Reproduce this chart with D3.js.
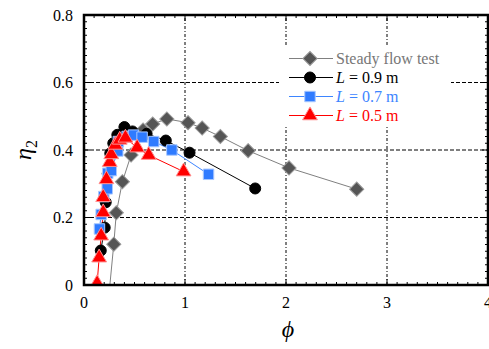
<!DOCTYPE html>
<html>
<head>
<meta charset="utf-8">
<script src="https://cdn.jsdelivr.net/npm/d3@7"></script>
<style>
  body { margin: 0; background: #fff; }
  svg { display: block; font-family: "Liberation Serif", "Times New Roman", serif; }
</style>
</head>
<body>
<svg id="chart"></svg>
<script>
// values: [phi, eta2]
const steady = [
  [0.24, -0.05], [0.295, 0.121], [0.32, 0.214], [0.38, 0.306], [0.466, 0.385],
  [0.585, 0.459], [0.68, 0.477], [0.82, 0.492], [1.03, 0.481], [1.17, 0.465],
  [1.35, 0.44], [1.625, 0.398], [2.03, 0.347], [2.70, 0.284]
]
const L09 = [
  [0.166, 0.102], [0.205, 0.17], [0.215, 0.245], [0.235, 0.33], [0.26, 0.39],
  [0.29, 0.42], [0.33, 0.445], [0.40, 0.468], [0.48, 0.455], [0.62, 0.448],
  [0.81, 0.428], [1.045, 0.392], [1.695, 0.286]
]
const L07 = [
  [0.153, 0.166], [0.17, 0.209], [0.196, 0.262], [0.23, 0.285], [0.235, 0.331],
  [0.27, 0.339], [0.334, 0.397], [0.34, 0.425], [0.427, 0.44], [0.49, 0.444],
  [0.575, 0.438], [0.69, 0.425], [0.87, 0.40], [1.233, 0.328]
]
const L05 = [
  [0.13, 0.005], [0.15, 0.081], [0.17, 0.146], [0.19, 0.215], [0.19, 0.26],
  [0.222, 0.313], [0.255, 0.364], [0.27, 0.387], [0.31, 0.415], [0.354, 0.43],
  [0.41, 0.436], [0.526, 0.407], [0.64, 0.385], [0.986, 0.336]
]
const xTicks = [0, 1, 2, 3, 4]
const yTicks = [0, 0.2, 0.4, 0.6, 0.8]

const series = [
  { name: "Steady flow test", data: steady, line: "#808080", fill: "#555555", stroke: "#9a9a9a", sym: d3.symbolSquare, rot: 45, size: 100, italicL: false },
  { name: "0.9 m", data: L09, line: "#000000", fill: "#000000", stroke: "#000000", sym: d3.symbolCircle, rot: 0, size: 95, italicL: true, text: "#000" },
  { name: "0.7 m", data: L07, line: "#3d85ff", fill: "#2f7bff", stroke: "#a9c8ff", sym: d3.symbolSquare, rot: 0, size: 110, italicL: true, text: "#3d85ff" },
  { name: "0.5 m", data: L05, line: "#ff0000", fill: "#ff0000", stroke: "#ff9090", sym: d3.symbolTriangle, rot: 0, size: 95, italicL: true, text: "#ff0000" }
]

const width = 489, height = 349
const svg = d3.select("#chart").attr("width", width).attr("height", height)

const x = d3.scaleLinear().domain([0, 4]).range([84, 488])
const y = d3.scaleLinear().domain([0, 0.8]).range([285, 15])

svg.append("defs").append("clipPath").attr("id", "clip")
  .append("rect").attr("x", 84).attr("y", 15).attr("width", 404).attr("height", 270)

// grid
const grid = svg.append("g")
grid.selectAll("line.h").data(yTicks.slice(1, -1)).join("line")
  .attr("x1", x(0)).attr("x2", x(4))
  .attr("y1", d => y(d)).attr("y2", d => y(d))
  .attr("stroke", "#000").attr("stroke-width", 1).attr("stroke-dasharray", "4,2")
grid.selectAll("line.v").data(xTicks.slice(1, -1)).join("line")
  .attr("x1", d => x(d)).attr("x2", d => x(d))
  .attr("y1", y(0)).attr("y2", y(0.8))
  .attr("stroke", "#000").attr("stroke-width", 1).attr("stroke-dasharray", "3,2,1,2")

// legend background
svg.append("rect").attr("x", 279).attr("y", 46).attr("width", 172).attr("height", 80).attr("fill", "#fff")

// minor ticks, inward
const minor = svg.append("g").attr("stroke", "#000").attr("stroke-width", 1)
const yMinor = d3.range(0, 0.8001, 0.02)
const xMinor = d3.range(0, 4.001, 0.1)
minor.selectAll("line.yl").data(yMinor).join("line")
  .attr("x1", x(0)).attr("x2", d => x(0) + (Math.round(d * 100) % 20 === 0 ? 6 : 3))
  .attr("y1", d => y(d)).attr("y2", d => y(d))
minor.selectAll("line.yr").data(yMinor).join("line")
  .attr("x1", x(4)).attr("x2", d => x(4) - (Math.round(d * 100) % 20 === 0 ? 6 : 3))
  .attr("y1", d => y(d)).attr("y2", d => y(d))
minor.selectAll("line.xb").data(xMinor).join("line")
  .attr("x1", d => x(d)).attr("x2", d => x(d))
  .attr("y1", y(0)).attr("y2", d => y(0) - (Math.round(d * 10) % 10 === 0 ? 6 : 3))
minor.selectAll("line.xt").data(xMinor).join("line")
  .attr("x1", d => x(d)).attr("x2", d => x(d))
  .attr("y1", y(0.8)).attr("y2", d => y(0.8) + (Math.round(d * 10) % 10 === 0 ? 6 : 3))

// series
const plot = svg.append("g").attr("clip-path", "url(#clip)")
const line = d3.line().x(d => x(d[0])).y(d => y(d[1]))
series.forEach(s => {
  plot.append("path").datum(s.data)
    .attr("d", line).attr("fill", "none")
    .attr("stroke", s.line).attr("stroke-width", 1)
})
series.forEach(s => {
  plot.selectAll(null).data(s.data.filter(d => d[1] >= 0)).join("path")
    .attr("transform", d => `translate(${x(d[0])},${y(d[1])}) rotate(${s.rot})`)
    .attr("d", d3.symbol(s.sym, s.size))
    .attr("fill", s.fill).attr("stroke", s.stroke).attr("stroke-width", 1)
})

// frame
svg.append("rect").attr("x", x(0)).attr("y", y(0.8))
  .attr("width", x(4) - x(0)).attr("height", y(0) - y(0.8))
  .attr("fill", "none").attr("stroke", "#000").attr("stroke-width", 2.5)

// tick labels
svg.append("g").selectAll("text").data(yTicks).join("text")
  .attr("x", 73).attr("y", d => y(d)).attr("dy", "0.35em")
  .attr("text-anchor", "end").attr("font-size", 16)
  .text(d => d === 0 ? "0" : d.toFixed(1))
svg.append("g").selectAll("text").data(xTicks).join("text")
  .attr("x", d => x(d)).attr("y", 302).attr("dy", "0.35em")
  .attr("text-anchor", "middle").attr("font-size", 16)
  .text(d => d)

// axis titles
svg.append("text").attr("x", 288).attr("y", 337)
  .attr("text-anchor", "middle").attr("font-size", 24).attr("font-style", "italic")
  .text("\u03d5")
const yt = svg.append("text").attr("transform", "translate(31,150) rotate(-90)")
  .attr("text-anchor", "middle").attr("font-size", 24).attr("font-style", "italic")
yt.append("tspan").text("\u03b7")
yt.append("tspan").attr("font-size", 16).attr("font-style", "normal").attr("dy", 6).text("2")

// legend
const lg = svg.append("g")
series.forEach((s, i) => {
  const cy = 58.5 + i * 19
  lg.append("line").attr("x1", 289).attr("x2", 333).attr("y1", cy).attr("y2", cy)
    .attr("stroke", s.line).attr("stroke-width", 1)
  lg.append("path").attr("transform", `translate(310,${cy}) rotate(${s.rot})`)
    .attr("d", d3.symbol(s.sym, s.size))
    .attr("fill", s.fill).attr("stroke", s.stroke)
  const t = lg.append("text").attr("x", 336).attr("y", cy).attr("dy", "0.35em")
    .attr("font-size", 16).attr("fill", s.text || "#777")
  if (s.italicL) {
    t.append("tspan").attr("font-style", "italic").text("L")
    t.append("tspan").text(" = " + s.name)
  } else {
    t.text(s.name)
  }
})
</script>
</body>
</html>
